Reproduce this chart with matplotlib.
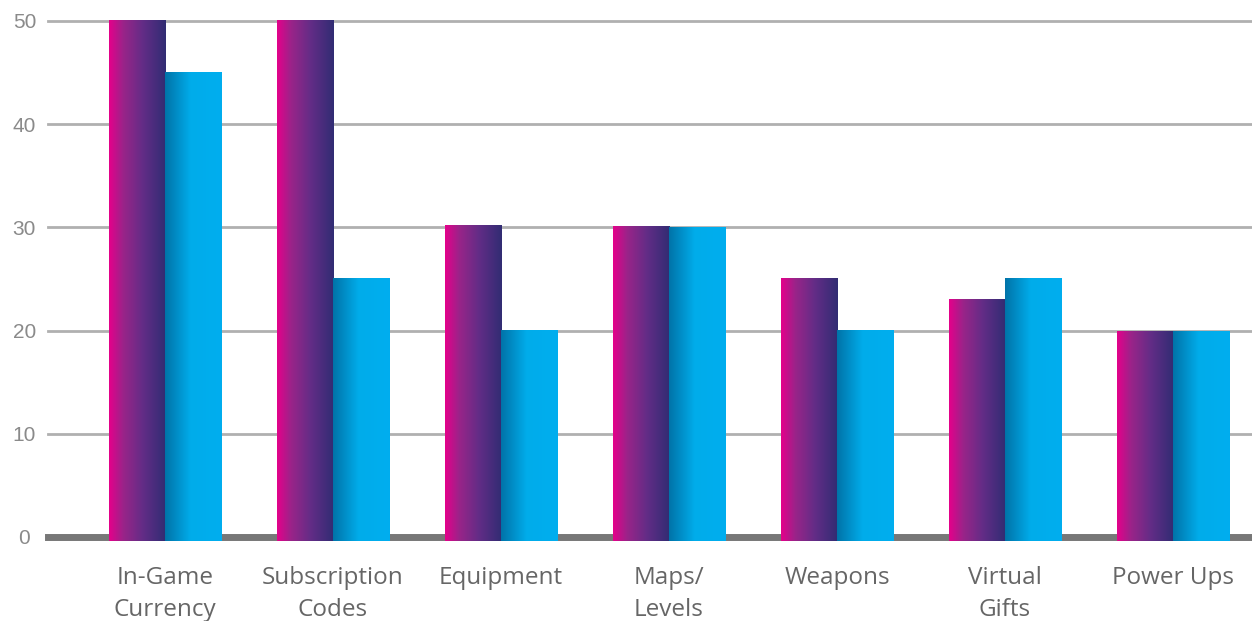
import numpy as np
import matplotlib.pyplot as plt
from matplotlib.colors import LinearSegmentedColormap

categories = ['In-Game\nCurrency', 'Subscription\nCodes', 'Equipment', 'Maps/\nLevels',
              'Weapons', 'Virtual\nGifts', 'Power Ups']
series_a = [50, 50, 30.2, 30.1, 25, 23, 19.9]
series_b = [45, 25, 20, 30, 20, 25, 19.9]
yticks = [0, 10, 20, 30, 40, 50]

pink = LinearSegmentedColormap.from_list(
    'pink', [(0, '#e5008b'), (0.25, '#9a2489'), (0.6, '#622d86'), (1, '#312c73')])
cyan = LinearSegmentedColormap.from_list(
    'cyan', [(0, '#0073a8'), (0.45, '#00acea'), (1, '#00aeef')])

fig = plt.figure(figsize=(12.52, 6.21), dpi=100)
ax = fig.add_axes([48 / 1252, 84 / 621, 1204 / 1252, 516 / 621])

x = np.arange(len(categories))
w = 0.335
grad = np.linspace(0, 1, 256).reshape(1, -1)

bars_a = ax.bar(x - w / 2, series_a, w, color='none', zorder=3)
bars_b = ax.bar(x + w / 2, series_b, w, color='none', zorder=3)
for bars, cmap in ((bars_a, pink), (bars_b, cyan)):
    for r in bars:
        x0, y0 = r.get_x(), r.get_y()
        # bars run a little below the baseline, as in the original
        im = ax.imshow(grad, cmap=cmap, aspect='auto', zorder=3,
                       extent=(x0, x0 + r.get_width(), y0 - 0.4, y0 + r.get_height()))
        im.set_clip_on(False)

for t in yticks[1:]:
    ax.axhline(t, color='#b0b0b0', lw=2, zorder=1, clip_on=False)
ax.axhline(0, color='#777777', lw=5, zorder=2, clip_on=False)

ax.set_xlim(-0.696, 6.47)
ax.set_ylim(0, 50)
for s in ax.spines.values():
    s.set_visible(False)
ax.set_yticks(yticks)
ax.set_yticklabels([str(t) for t in yticks], family='Liberation Sans',
                   fontsize=15, color='#8a8a8a', ha='center')
ax.tick_params(axis='y', length=0, pad=17)
ax.set_xticks(x)
ax.set_xticklabels(categories, family='Open Sans', fontsize=17.5, color='#666666',
                   linespacing=1.45)
ax.tick_params(axis='x', length=0, pad=21)

fig.savefig('out.png', dpi=100)
